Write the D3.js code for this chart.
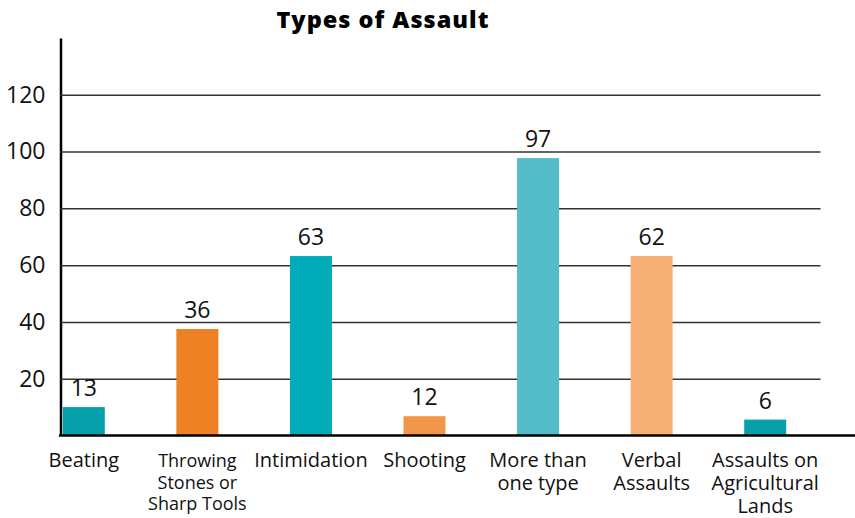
<!DOCTYPE html>
<html>
<head>
<meta charset="utf-8">
<script src="https://cdn.jsdelivr.net/npm/d3@7"></script>
<style>
  body { margin: 0; background: #fff; }
  svg { display: block; font-family: "Open Sans", "Noto Sans", sans-serif; }
</style>
</head>
<body>
<svg></svg>
<script>
const width = 855;
const height = 518;

// data
const categories = [
  "Beating",
  "Throwing Stones or Sharp Tools",
  "Intimidation",
  "Shooting",
  "More than one type",
  "Verbal Assaults",
  "Assaults on Agricultural Lands",
];
// label lines as printed under each bar
const categoryLines = [
  ["Beating"],
  ["Throwing", "Stones or", "Sharp Tools"],
  ["Intimidation"],
  ["Shooting"],
  ["More than", "one type"],
  ["Verbal", "Assaults"],
  ["Assaults on", "Agricultural", "Lands"],
];
// printed counts above the bars
const valueLabels = ["13", "36", "63", "12", "97", "62", "6"];
// bar heights as they are drawn against the axis
const barValues = [10, 37.5, 63.2, 6.8, 97.7, 63.2, 5.6];
const yTicks = [20, 40, 60, 80, 100, 120];

const colors = ["#05a0aa", "#ee8124", "#00acb9", "#f2974a", "#53bcc8", "#f6b073", "#05a0aa"];

const svg = d3.select("svg").attr("width", width).attr("height", height);

const x = d3
  .scaleBand()
  .domain(categories)
  .range([27, 822])
  .paddingInner(0.63)
  .paddingOuter(0.315);

const y = d3.scaleLinear().domain([0, 140]).range([435.5, 38]);

// title
svg
  .append("text")
  .attr("x", 383)
  .attr("y", 28)
  .attr("text-anchor", "middle")
  .attr("font-size", 23.5)
  .attr("font-weight", 800)
  .attr("letter-spacing", 1)
  .text("Types of Assault");

// y axis with gridlines
const yAxis = svg
  .append("g")
  .attr("transform", "translate(60.5,0)")
  .call(
    d3
      .axisLeft(y)
      .tickValues(yTicks)
      .tickSize(-760)
      .tickSizeOuter(0)
      .tickPadding(15)
  );

yAxis.select(".domain").attr("stroke", "#000").attr("stroke-width", 2.5);
yAxis.selectAll(".tick line").attr("stroke", "#333").attr("stroke-width", 1.5);
yAxis
  .selectAll(".tick text")
  .attr("font-size", 23)
  .attr("font-family", "'Open Sans', 'Noto Sans', sans-serif")
  .attr("fill", "#111");

// bars
svg
  .selectAll("rect.bar")
  .data(barValues)
  .enter()
  .append("rect")
  .attr("class", "bar")
  .attr("x", (d, i) => x(categories[i]))
  .attr("y", (d) => y(d))
  .attr("width", x.bandwidth())
  .attr("height", (d) => y(0) - y(d))
  .attr("fill", (d, i) => colors[i]);

// value labels
svg
  .selectAll("text.value")
  .data(barValues)
  .enter()
  .append("text")
  .attr("class", "value")
  .attr("x", (d, i) => x(categories[i]) + x.bandwidth() / 2)
  .attr("y", (d) => y(d) - 11)
  .attr("text-anchor", "middle")
  .attr("font-size", 23)
  .attr("fill", "#111")
  .text((d, i) => valueLabels[i]);

// baseline
svg
  .append("line")
  .attr("x1", 59)
  .attr("x2", width)
  .attr("y1", y(0))
  .attr("y2", y(0))
  .attr("stroke", "#000")
  .attr("stroke-width", 2.5);

// category labels
const catText = svg
  .selectAll("text.cat")
  .data(categoryLines)
  .enter()
  .append("text")
  .attr("class", "cat")
  .attr("text-anchor", "middle")
  .attr("font-size", (d, i) => (i === 1 ? 18 : 20))
  .attr("fill", "#111")
  .attr("transform", (d, i) => `translate(${x(categories[i]) + x.bandwidth() / 2},467)`);

catText
  .selectAll("tspan")
  .data((d, i) => d.map((line) => ({ line, i })))
  .enter()
  .append("tspan")
  .attr("x", 0)
  .attr("y", (d, j) => j * (d.i === 1 ? 21.5 : 23))
  .text((d) => d.line);
</script>
</body>
</html>
